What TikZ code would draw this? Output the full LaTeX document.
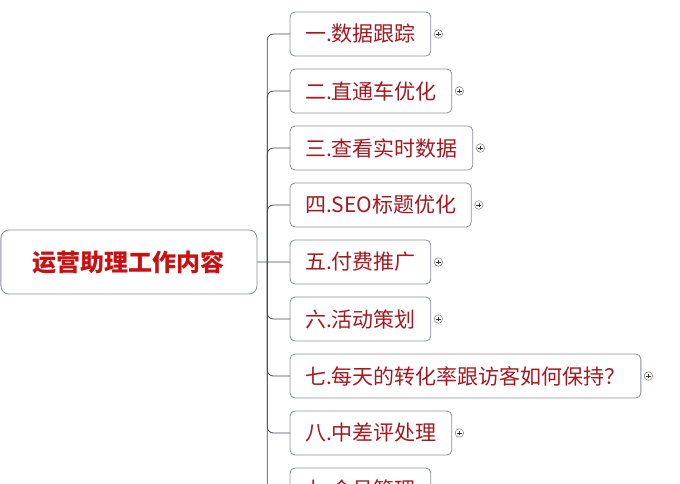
\documentclass[tikz,border=0pt]{standalone}
\usepackage{fontspec}
\setmainfont{Noto Sans CJK SC}
\usetikzlibrary{positioning}
\definecolor{rootred}{RGB}{200,18,18}
\definecolor{itemred}{RGB}{165,24,32}
\definecolor{boxgray}{RGB}{138,144,150}
\definecolor{linegray}{RGB}{68,74,82}

\begin{document}
\begin{tikzpicture}[
    x=1bp, y=-1bp,
    root/.style={
        rectangle, draw=boxgray, fill=white,
        minimum width=256bp, minimum height=64bp,
        align=center, rounded corners=8bp, line width=0.8bp,
        font=\fontsize{24bp}{28bp}\selectfont\bfseries, text=rootred
    },
    topic/.style={
        rectangle, draw=boxgray, fill=white,
        minimum height=44bp, inner xsep=15bp, outer sep=0pt,
        rounded corners=5bp, line width=0.8bp,
        font=\fontsize{21bp}{25bp}\selectfont, text=itemred
    },
    expander/.style={
        circle, draw=gray!90, fill=white, line width=0.6bp,
        inner sep=0pt, minimum size=8.5bp,
        path picture={
            \draw[black!80, line width=0.7bp]
                ([xshift=-2.4bp]path picture bounding box.center) --
                ([xshift=2.4bp]path picture bounding box.center)
                ([yshift=-2.4bp]path picture bounding box.center) --
                ([yshift=2.4bp]path picture bounding box.center);
        }
    },
    branch/.style={draw=linegray, line width=0.8bp, rounded corners=6bp},
]
\useasboundingbox (0,0) rectangle (680,484);

% Nodes
\node[root, anchor=west] (root) at (0.5,262) {运营助理工作内容};
\node[topic, anchor=west] (c1) at (290,34) {一.数据跟踪};
\node[topic, below=13bp of c1.south west, anchor=north west] (c2) {二.直通车优化};
\node[topic, below=13bp of c2.south west, anchor=north west] (c3) {三.查看实时数据};
\node[topic, below=13bp of c3.south west, anchor=north west] (c4) {四.SEO标题优化};
\node[topic, below=13bp of c4.south west, anchor=north west] (c5) {五.付费推广};
\node[topic, below=13bp of c5.south west, anchor=north west] (c6) {六.活动策划};
\node[topic, below=13bp of c6.south west, anchor=north west] (c7) {七.每天的转化率跟访客如何保持？};
\node[topic, below=13bp of c7.south west, anchor=north west] (c8) {八.中差评处理};
\node[topic, below=13bp of c8.south west, anchor=north west] (c9) {九.会员管理};

% Expand markers
\node[expander, right=3bp of c1] (p1) {};
\node[expander, right=3bp of c2] (p2) {};
\node[expander, right=3bp of c3] (p3) {};
\node[expander, right=3bp of c4] (p4) {};
\node[expander, right=3bp of c5] (p5) {};
\node[expander, right=3bp of c6] (p6) {};
\node[expander, right=3bp of c7] (p7) {};
\node[expander, right=3bp of c8] (p8) {};
\node[expander, right=3bp of c9] (p9) {};

% Branches
\coordinate (trunk) at ([xshift=10bp]root.east);
\draw[branch] (root) -- (c5);
\draw[branch] (trunk) |- (c1.west);
\draw[branch] (trunk) |- (c2.west);
\draw[branch] (trunk) |- (c3.west);
\draw[branch] (trunk) |- (c4.west);
\draw[branch] (trunk) |- (c6.west);
\draw[branch] (trunk) |- (c7.west);
\draw[branch] (trunk) |- (c8.west);
\draw[branch] (trunk) |- (c9.west);

\end{tikzpicture}
\end{document}
